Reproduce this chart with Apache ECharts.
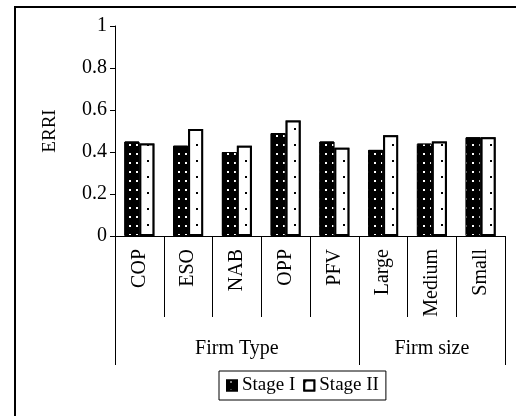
<!DOCTYPE html>
<html><head><meta charset="utf-8">
<script src="https://cdn.jsdelivr.net/npm/echarts@6/dist/echarts.min.js"></script>
<style>html,body{margin:0;padding:0;background:#fff}#c{width:516px;height:416px}</style>
</head><body><div id="c"></div>
<script>
const categories = ['COP','ESO','NAB','OPP','PFV','Large','Medium','Small'];
const groupLabels = ['', '', 'Firm Type', '', '', '', 'Firm size', ''];
const groupStarts = [0, 5];
const stage1 = [0.45, 0.43, 0.40, 0.49, 0.45, 0.41, 0.44, 0.47];
const stage2 = [0.44, 0.51, 0.43, 0.55, 0.42, 0.48, 0.45, 0.47];
const yTicks = [0, 0.2, 0.4, 0.6, 0.8, 1];

const F = 'Liberation Serif, Times New Roman, serif';
const chart = echarts.init(document.getElementById('c'));
chart.setOption({
  animation: false,
  backgroundColor: '#fff',
  textStyle: {fontFamily: F, color: '#000'},
  graphic: [{type: 'rect', shape: {x: 15, y: 7, width: 520, height: 430},
    style: {fill: 'none', stroke: '#000', lineWidth: 2}}],
  grid: {left: 115, right: 11, top: 26, bottom: 180, containLabel: false, outerBoundsMode: 'none'},
  legend: {
    left: 219, top: 371, padding: [5, 7, 5, 7], itemGap: 8,
    borderColor: '#000', borderWidth: 1,
    itemWidth: 10, itemHeight: 10, icon: 'rect',
    textStyle: {fontFamily: F, fontSize: 19, color: '#000'},
    data: ['Stage I', 'Stage II']
  },
  xAxis: [{
    type: 'category', data: categories, position: 'bottom',
    axisLine: {show: true, lineStyle: {color: '#000', width: 1}},
    axisTick: {show: true, interval: 0, length: 81, lineStyle: {color: '#000', width: 1}},
    axisLabel: {show: true, rotate: 90, margin: 13, fontFamily: F, fontSize: 20, color: '#000', interval: 0}
  }, {
    type: 'category', data: groupLabels, position: 'bottom',
    axisLine: {show: false},
    axisTick: {show: true, length: 129, lineStyle: {color: '#000', width: 1},
      interval: function (i) { return groupStarts.indexOf(i) >= 0; }},
    axisLabel: {margin: 103, fontFamily: F, fontSize: 20, color: '#000', interval: 0}
  }],
  yAxis: {
    type: 'value', min: 0, max: 1, interval: 0.2,
    name: 'ERRI', nameLocation: 'middle', nameGap: 55,
    nameTextStyle: {fontFamily: F, fontSize: 19, color: '#000'},
    axisLine: {show: true, lineStyle: {color: '#000'}},
    axisTick: {show: true, length: 5, lineStyle: {color: '#000'}},
    splitLine: {show: false},
    axisLabel: {margin: 8, fontFamily: F, fontSize: 20, color: '#000',
      formatter: function (v) { return yTicks.indexOf(Math.round(v * 10) / 10) >= 0 ? String(Math.round(v * 10) / 10) : ''; }}
  },
  series: [{
    name: 'Stage I', type: 'bar', data: stage1, barWidth: 15, barGap: '0%',
    itemStyle: {color: '#000', borderColor: '#000', borderWidth: 1,
      decal: {symbol: 'rect', symbolSize: 1, color: '#fff', dashArrayX: [[0, 3, 1.5, 4.5, 1.5, 2]], dashArrayY: [1.5, 6.2], backgroundColor: '#000'}}
  }, {
    name: 'Stage II', type: 'bar', data: stage2, barWidth: 15,
    itemStyle: {color: '#fff', borderColor: '#000', borderWidth: 2,
      decal: {symbol: 'rect', symbolSize: 1, color: '#000', dashArrayX: [[2, 46.75]], dashArrayY: [2, 13.5], backgroundColor: '#fff', maxTileWidth: 1024}}
  }]
});
</script></body></html>
